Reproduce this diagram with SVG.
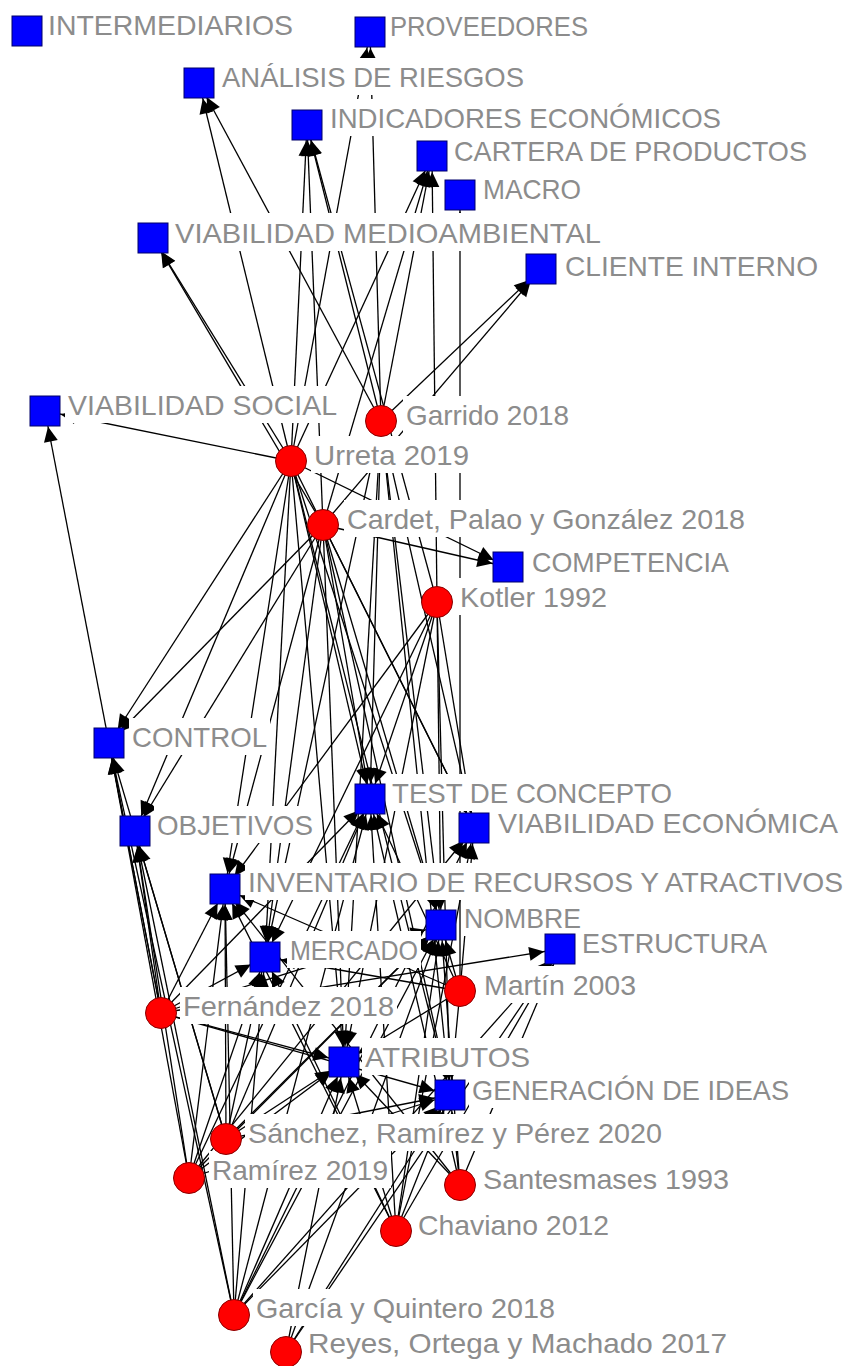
<svg xmlns="http://www.w3.org/2000/svg" width="848" height="1366" viewBox="0 0 848 1366">
<style>
.e line{stroke:#000;stroke-width:1.3;marker-end:url(#ah)}
.bg{fill:#fff}
.c{fill:#0000ff;stroke:#00006a;stroke-width:1}
.a{fill:#ff0000;stroke:#8a0000;stroke-width:1}
text{font-family:"Liberation Sans",Arial,sans-serif;font-size:28px;fill:#8c8c8c}
</style>
<defs>
<marker id="ah" markerUnits="userSpaceOnUse" markerWidth="15" markerHeight="14" viewBox="0 0 15 14" refX="31" refY="7" orient="auto" overflow="visible">
<path d="M0,0 L15,7 L0,14 z" fill="#000"/>
</marker>
</defs>
<rect width="848" height="1366" fill="#fff"/>
<g id="connectors" class="e">
<line x1="291" y1="461" x2="370" y2="32"/>
<line x1="291" y1="461" x2="199" y2="83"/>
<line x1="291" y1="461" x2="307" y2="125"/>
<line x1="291" y1="461" x2="432" y2="156"/>
<line x1="291" y1="461" x2="153" y2="238"/>
<line x1="291" y1="461" x2="45" y2="411"/>
<line x1="291" y1="461" x2="508" y2="567"/>
<line x1="291" y1="461" x2="109" y2="743"/>
<line x1="291" y1="461" x2="135" y2="831"/>
<line x1="291" y1="461" x2="370" y2="799"/>
<line x1="291" y1="461" x2="474" y2="828"/>
<line x1="291" y1="461" x2="225" y2="889"/>
<line x1="291" y1="461" x2="441" y2="925"/>
<line x1="291" y1="461" x2="265" y2="957"/>
<line x1="291" y1="461" x2="344" y2="1062"/>
<line x1="291" y1="461" x2="450" y2="1095"/>
<line x1="381" y1="421" x2="370" y2="32"/>
<line x1="381" y1="421" x2="199" y2="83"/>
<line x1="381" y1="421" x2="307" y2="125"/>
<line x1="381" y1="421" x2="432" y2="156"/>
<line x1="381" y1="421" x2="541" y2="269"/>
<line x1="381" y1="421" x2="370" y2="799"/>
<line x1="381" y1="421" x2="474" y2="828"/>
<line x1="381" y1="421" x2="441" y2="925"/>
<line x1="381" y1="421" x2="265" y2="957"/>
<line x1="381" y1="421" x2="344" y2="1062"/>
<line x1="381" y1="421" x2="450" y2="1095"/>
<line x1="323" y1="525" x2="307" y2="125"/>
<line x1="323" y1="525" x2="432" y2="156"/>
<line x1="323" y1="525" x2="153" y2="238"/>
<line x1="323" y1="525" x2="541" y2="269"/>
<line x1="323" y1="525" x2="508" y2="567"/>
<line x1="323" y1="525" x2="109" y2="743"/>
<line x1="323" y1="525" x2="135" y2="831"/>
<line x1="323" y1="525" x2="370" y2="799"/>
<line x1="323" y1="525" x2="474" y2="828"/>
<line x1="323" y1="525" x2="225" y2="889"/>
<line x1="323" y1="525" x2="441" y2="925"/>
<line x1="323" y1="525" x2="265" y2="957"/>
<line x1="323" y1="525" x2="344" y2="1062"/>
<line x1="323" y1="525" x2="450" y2="1095"/>
<line x1="437" y1="602" x2="307" y2="125"/>
<line x1="437" y1="602" x2="432" y2="156"/>
<line x1="437" y1="602" x2="370" y2="799"/>
<line x1="437" y1="602" x2="474" y2="828"/>
<line x1="437" y1="602" x2="441" y2="925"/>
<line x1="437" y1="602" x2="265" y2="957"/>
<line x1="437" y1="602" x2="344" y2="1062"/>
<line x1="437" y1="602" x2="450" y2="1095"/>
<line x1="437" y1="602" x2="225" y2="889"/>
<line x1="460" y1="991" x2="460" y2="195"/>
<line x1="460" y1="991" x2="370" y2="799"/>
<line x1="460" y1="991" x2="474" y2="828"/>
<line x1="460" y1="991" x2="441" y2="925"/>
<line x1="460" y1="991" x2="265" y2="957"/>
<line x1="460" y1="991" x2="225" y2="889"/>
<line x1="460" y1="991" x2="344" y2="1062"/>
<line x1="460" y1="991" x2="450" y2="1095"/>
<line x1="161" y1="1013" x2="45" y2="411"/>
<line x1="161" y1="1013" x2="109" y2="743"/>
<line x1="161" y1="1013" x2="135" y2="831"/>
<line x1="161" y1="1013" x2="225" y2="889"/>
<line x1="161" y1="1013" x2="265" y2="957"/>
<line x1="161" y1="1013" x2="441" y2="925"/>
<line x1="161" y1="1013" x2="344" y2="1062"/>
<line x1="161" y1="1013" x2="450" y2="1095"/>
<line x1="161" y1="1013" x2="560" y2="949"/>
<line x1="161" y1="1013" x2="370" y2="799"/>
<line x1="226" y1="1139" x2="109" y2="743"/>
<line x1="226" y1="1139" x2="135" y2="831"/>
<line x1="226" y1="1139" x2="225" y2="889"/>
<line x1="226" y1="1139" x2="265" y2="957"/>
<line x1="226" y1="1139" x2="344" y2="1062"/>
<line x1="226" y1="1139" x2="450" y2="1095"/>
<line x1="226" y1="1139" x2="441" y2="925"/>
<line x1="226" y1="1139" x2="370" y2="799"/>
<line x1="189" y1="1178" x2="109" y2="743"/>
<line x1="189" y1="1178" x2="135" y2="831"/>
<line x1="189" y1="1178" x2="225" y2="889"/>
<line x1="189" y1="1178" x2="265" y2="957"/>
<line x1="189" y1="1178" x2="344" y2="1062"/>
<line x1="189" y1="1178" x2="450" y2="1095"/>
<line x1="189" y1="1178" x2="441" y2="925"/>
<line x1="189" y1="1178" x2="370" y2="799"/>
<line x1="189" y1="1178" x2="474" y2="828"/>
<line x1="460" y1="1185" x2="344" y2="1062"/>
<line x1="460" y1="1185" x2="450" y2="1095"/>
<line x1="460" y1="1185" x2="441" y2="925"/>
<line x1="460" y1="1185" x2="560" y2="949"/>
<line x1="460" y1="1185" x2="225" y2="889"/>
<line x1="460" y1="1185" x2="370" y2="799"/>
<line x1="396" y1="1231" x2="344" y2="1062"/>
<line x1="396" y1="1231" x2="450" y2="1095"/>
<line x1="396" y1="1231" x2="441" y2="925"/>
<line x1="396" y1="1231" x2="370" y2="799"/>
<line x1="396" y1="1231" x2="225" y2="889"/>
<line x1="396" y1="1231" x2="265" y2="957"/>
<line x1="396" y1="1231" x2="560" y2="949"/>
<line x1="396" y1="1231" x2="474" y2="828"/>
<line x1="234" y1="1315" x2="109" y2="743"/>
<line x1="234" y1="1315" x2="135" y2="831"/>
<line x1="234" y1="1315" x2="225" y2="889"/>
<line x1="234" y1="1315" x2="265" y2="957"/>
<line x1="234" y1="1315" x2="344" y2="1062"/>
<line x1="234" y1="1315" x2="450" y2="1095"/>
<line x1="234" y1="1315" x2="441" y2="925"/>
<line x1="234" y1="1315" x2="370" y2="799"/>
<line x1="234" y1="1315" x2="560" y2="949"/>
<line x1="234" y1="1315" x2="474" y2="828"/>
<line x1="286" y1="1352" x2="344" y2="1062"/>
<line x1="286" y1="1352" x2="450" y2="1095"/>
<line x1="286" y1="1352" x2="441" y2="925"/>
<line x1="286" y1="1352" x2="560" y2="949"/>
</g>
<g id="label-backgrounds" class="bg">
<rect x="45" y="6" width="251" height="37"/>
<rect x="387" y="7" width="204" height="37"/>
<rect x="219" y="58" width="308" height="37"/>
<rect x="327" y="99" width="397" height="37"/>
<rect x="451" y="133" width="359" height="36"/>
<rect x="480" y="171" width="104" height="36"/>
<rect x="172" y="213" width="432" height="38"/>
<rect x="562" y="247" width="259" height="37"/>
<rect x="65" y="386" width="275" height="37"/>
<rect x="403" y="396" width="169" height="40"/>
<rect x="311" y="436" width="161" height="37"/>
<rect x="344" y="500" width="404" height="37"/>
<rect x="529" y="543" width="203" height="37"/>
<rect x="457" y="578" width="153" height="37"/>
<rect x="129" y="718" width="141" height="37"/>
<rect x="389" y="774" width="286" height="37"/>
<rect x="154" y="806" width="162" height="37"/>
<rect x="495" y="804" width="346" height="37"/>
<rect x="245" y="863" width="601" height="37"/>
<rect x="461" y="899" width="123" height="37"/>
<rect x="287" y="931" width="134" height="37"/>
<rect x="579" y="924" width="191" height="37"/>
<rect x="481" y="966" width="158" height="37"/>
<rect x="180" y="987" width="217" height="37"/>
<rect x="362" y="1038" width="171" height="37"/>
<rect x="469" y="1071" width="323" height="37"/>
<rect x="245" y="1114" width="421" height="37"/>
<rect x="209" y="1151" width="182" height="37"/>
<rect x="480" y="1160" width="252" height="37"/>
<rect x="415" y="1206" width="197" height="37"/>
<rect x="253" y="1289" width="305" height="37"/>
<rect x="305" y="1324" width="425" height="37"/>
</g>
<g id="n-intermediarios"><rect class="c" x="12" y="16" width="30" height="30"/><text x="48" y="35" textLength="245" lengthAdjust="spacingAndGlyphs">INTERMEDIARIOS</text></g>
<g id="n-proveedores"><rect class="c" x="355" y="17" width="30" height="30"/><text x="390" y="36" textLength="198" lengthAdjust="spacingAndGlyphs">PROVEEDORES</text></g>
<g id="n-analisis"><rect class="c" x="184" y="68" width="30" height="30"/><text x="222" y="87" textLength="302" lengthAdjust="spacingAndGlyphs">ANÁLISIS DE RIESGOS</text></g>
<g id="n-indicadores"><rect class="c" x="292" y="110" width="30" height="30"/><text x="330" y="128" textLength="391" lengthAdjust="spacingAndGlyphs">INDICADORES ECONÓMICOS</text></g>
<g id="n-cartera"><rect class="c" x="417" y="141" width="30" height="30"/><text x="454" y="161" textLength="353" lengthAdjust="spacingAndGlyphs">CARTERA DE PRODUCTOS</text></g>
<g id="n-macro"><rect class="c" x="445" y="180" width="30" height="30"/><text x="483" y="199" textLength="98" lengthAdjust="spacingAndGlyphs">MACRO</text></g>
<g id="n-viab-medio"><rect class="c" x="138" y="223" width="30" height="30"/><text x="175" y="243" textLength="426" lengthAdjust="spacingAndGlyphs">VIABILIDAD MEDIOAMBIENTAL</text></g>
<g id="n-cliente"><rect class="c" x="526" y="254" width="30" height="30"/><text x="565" y="276" textLength="253" lengthAdjust="spacingAndGlyphs">CLIENTE INTERNO</text></g>
<g id="n-viab-social"><rect class="c" x="30" y="396" width="30" height="30"/><text x="68" y="415" textLength="269" lengthAdjust="spacingAndGlyphs">VIABILIDAD SOCIAL</text></g>
<g id="n-competencia"><rect class="c" x="493" y="552" width="30" height="30"/><text x="532" y="572" textLength="197" lengthAdjust="spacingAndGlyphs">COMPETENCIA</text></g>
<g id="n-control"><rect class="c" x="94" y="728" width="30" height="30"/><text x="132" y="747" textLength="135" lengthAdjust="spacingAndGlyphs">CONTROL</text></g>
<g id="n-test"><rect class="c" x="355" y="784" width="30" height="30"/><text x="392" y="803" textLength="280" lengthAdjust="spacingAndGlyphs">TEST DE CONCEPTO</text></g>
<g id="n-objetivos"><rect class="c" x="120" y="816" width="30" height="30"/><text x="157" y="835" textLength="156" lengthAdjust="spacingAndGlyphs">OBJETIVOS</text></g>
<g id="n-viab-econ"><rect class="c" x="459" y="813" width="30" height="30"/><text x="498" y="833" textLength="340" lengthAdjust="spacingAndGlyphs">VIABILIDAD ECONÓMICA</text></g>
<g id="n-inventario"><rect class="c" x="210" y="874" width="30" height="30"/><text x="248" y="892" textLength="595" lengthAdjust="spacingAndGlyphs">INVENTARIO DE RECURSOS Y ATRACTIVOS</text></g>
<g id="n-nombre"><rect class="c" x="426" y="910" width="30" height="30"/><text x="464" y="928" textLength="117" lengthAdjust="spacingAndGlyphs">NOMBRE</text></g>
<g id="n-mercado"><rect class="c" x="250" y="942" width="30" height="30"/><text x="290" y="960" textLength="128" lengthAdjust="spacingAndGlyphs">MERCADO</text></g>
<g id="n-estructura"><rect class="c" x="545" y="934" width="30" height="30"/><text x="582" y="953" textLength="185" lengthAdjust="spacingAndGlyphs">ESTRUCTURA</text></g>
<g id="n-atributos"><rect class="c" x="329" y="1047" width="30" height="30"/><text x="365" y="1067" textLength="165" lengthAdjust="spacingAndGlyphs">ATRIBUTOS</text></g>
<g id="n-generacion"><rect class="c" x="435" y="1080" width="30" height="30"/><text x="472" y="1100" textLength="317" lengthAdjust="spacingAndGlyphs">GENERACIÓN DE IDEAS</text></g>
<g id="n-garrido"><circle class="a" cx="381" cy="421" r="15.5"/><text x="406" y="425" textLength="163" lengthAdjust="spacingAndGlyphs">Garrido 2018</text></g>
<g id="n-urreta"><circle class="a" cx="291" cy="461" r="15.5"/><text x="314" y="465" textLength="155" lengthAdjust="spacingAndGlyphs">Urreta 2019</text></g>
<g id="n-cardet"><circle class="a" cx="323" cy="525" r="15.5"/><text x="347" y="529" textLength="398" lengthAdjust="spacingAndGlyphs">Cardet, Palao y González 2018</text></g>
<g id="n-kotler"><circle class="a" cx="437" cy="602" r="15.5"/><text x="460" y="607" textLength="147" lengthAdjust="spacingAndGlyphs">Kotler 1992</text></g>
<g id="n-martin"><circle class="a" cx="460" cy="991" r="15.5"/><text x="484" y="995" textLength="152" lengthAdjust="spacingAndGlyphs">Martín 2003</text></g>
<g id="n-fernandez"><circle class="a" cx="161" cy="1013" r="15.5"/><text x="183" y="1016" textLength="211" lengthAdjust="spacingAndGlyphs">Fernández 2018</text></g>
<g id="n-sanchez"><circle class="a" cx="226" cy="1139" r="15.5"/><text x="248" y="1143" textLength="414" lengthAdjust="spacingAndGlyphs">Sánchez, Ramírez y Pérez 2020</text></g>
<g id="n-ramirez"><circle class="a" cx="189" cy="1178" r="15.5"/><text x="212" y="1180" textLength="176" lengthAdjust="spacingAndGlyphs">Ramírez 2019</text></g>
<g id="n-santesmases"><circle class="a" cx="460" cy="1185" r="15.5"/><text x="483" y="1189" textLength="246" lengthAdjust="spacingAndGlyphs">Santesmases 1993</text></g>
<g id="n-chaviano"><circle class="a" cx="396" cy="1231" r="15.5"/><text x="418" y="1235" textLength="191" lengthAdjust="spacingAndGlyphs">Chaviano 2012</text></g>
<g id="n-garcia"><circle class="a" cx="234" cy="1315" r="15.5"/><text x="256" y="1318" textLength="299" lengthAdjust="spacingAndGlyphs">García y Quintero 2018</text></g>
<g id="n-reyes"><circle class="a" cx="286" cy="1352" r="15.5"/><text x="308" y="1353" textLength="419" lengthAdjust="spacingAndGlyphs">Reyes, Ortega y Machado 2017</text></g>
</svg>
